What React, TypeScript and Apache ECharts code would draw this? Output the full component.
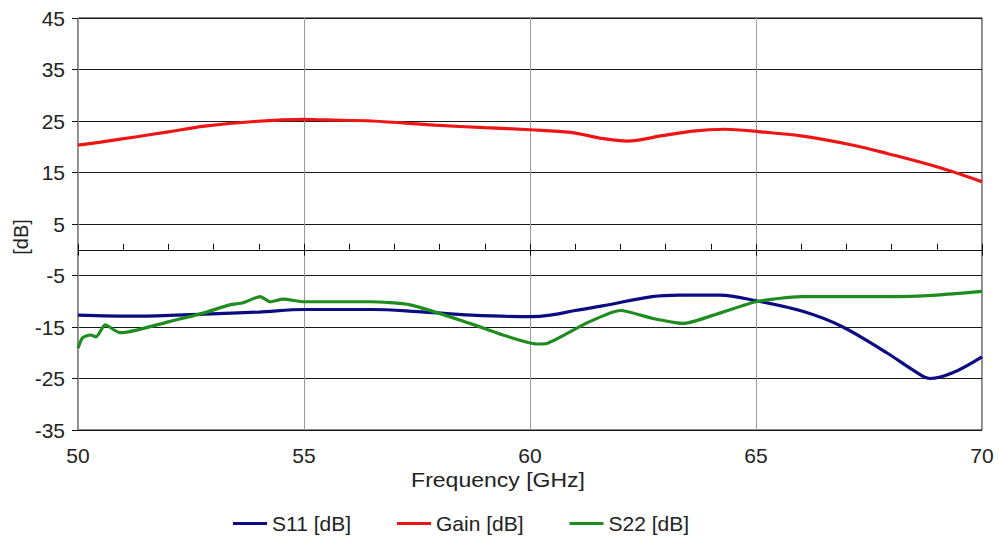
import React, { useEffect, useRef } from "react";
import * as echarts from "echarts";

// ---- data ----
const gainFreq = [50, 50.5, 51.3, 52, 52.8, 53.9, 55, 55.5, 56.5, 57.9, 59, 60, 60.9, 61.6, 62.15, 62.9, 63.6, 64.3, 65.1, 66, 67.15, 67.9, 69, 70];
const gainVals = [20.3, 20.9, 21.95, 22.9, 24.0, 24.9, 25.3, 25.2, 25.0, 24.2, 23.7, 23.3, 22.8, 21.6, 21.1, 22.1, 23.05, 23.4, 22.9, 22.1, 20.3, 18.7, 16.1, 13.2];

const s11Freq = [50, 51.3, 52.8, 54, 55, 56.5, 57.5, 58.7, 60, 60.45, 61, 61.6, 62.7, 63.3, 64.2, 65, 66.05, 66.9, 67.9, 68.5, 68.85, 69.35, 70];
const s11Vals = [-12.7, -12.9, -12.5, -12.1, -11.6, -11.6, -12.0, -12.7, -13.0, -12.7, -11.8, -10.9, -9.1, -8.8, -8.8, -9.9, -12.0, -14.9, -20.05, -23.5, -25.0, -23.9, -20.8];

const s22Freq = [50, 50.1, 50.27, 50.4, 50.6, 50.93, 51.3, 52, 52.77, 53.36, 53.65, 54.03, 54.25, 54.54, 55, 56.46, 57.35, 58.67, 59.4, 60.15, 60.37, 61.26, 62, 62.7, 63.25, 63.4, 64.2, 65, 66, 67.9, 69, 70];
const s22Vals = [-19.1, -17.1, -16.55, -16.9, -14.6, -16.1, -15.6, -14.0, -12.3, -10.7, -10.3, -9.1, -10.1, -9.6, -10.1, -10.1, -10.7, -14.3, -16.55, -18.3, -18.2, -14.2, -11.8, -13.3, -14.2, -14.3, -12.3, -10.1, -9.1, -9.1, -8.8, -8.1];

const seriesNames = ["S11 [dB]", "Gain [dB]", "S22 [dB]"];
const seriesColors = ["#0c0c82", "#ee1515", "#1e8c1e"];
const xTitle = "Frequency [GHz]";
const yTitle = "[dB]";

const FONT = '"Liberation Sans", Arial, sans-serif';

function pairs(f: number[], v: number[]) {
  return f.map((x, i) => [x, v[i]]);
}

export default function App() {
  const ref = useRef<HTMLDivElement>(null);

  useEffect(() => {
    if (!ref.current) return;
    const chart = echarts.init(ref.current, undefined, { renderer: "svg" });
    const data = [pairs(s11Freq, s11Vals), pairs(gainFreq, gainVals), pairs(s22Freq, s22Vals)];
    const smooths = [0.35, 0.35, 0.2];

    chart.setOption({
      animation: false,
      backgroundColor: "#ffffff",
      textStyle: { fontFamily: FONT },
      grid: {
        left: 78,
        right: 17,
        top: 18,
        bottom: 111,
        show: true,
        borderColor: "#111111",
        borderWidth: 1,
        backgroundColor: "transparent",
      },
      legend: {
        left: 233,
        top: 513,
        padding: 0,
        itemWidth: 34,
        itemHeight: 3,
        itemGap: 46,
        icon: "rect",
        textStyle: { fontSize: 21, color: "#222222", fontFamily: FONT },
        data: seriesNames,
      },
      xAxis: [
        {
          type: "value",
          min: 50,
          max: 70,
          interval: 5,
          position: "bottom",
          axisLine: { show: false, onZero: false },
          axisTick: { show: false },
          axisLabel: { fontSize: 21, color: "#222222", margin: 15, fontFamily: FONT },
          splitLine: { show: true, lineStyle: { color: "#9a9a9a", width: 1 } },
        },
        {
          type: "value",
          min: 50,
          max: 70,
          interval: 1,
          position: "top",
          axisLine: { show: true, onZero: true, onZeroAxisIndex: 0, lineStyle: { color: "#111111", width: 1 } },
          axisTick: { show: true, inside: false, length: 6, lineStyle: { color: "#111111", width: 1 } },
          axisLabel: { show: false },
          splitLine: { show: false },
        },
        {
          type: "value",
          min: 50,
          max: 70,
          interval: 5,
          position: "bottom",
          axisLine: { show: false, onZero: true, onZeroAxisIndex: 0 },
          axisTick: { show: true, inside: false, length: 6, lineStyle: { color: "#111111", width: 1 } },
          axisLabel: { show: false },
          splitLine: { show: false },
        },
      ],
      yAxis: [
        {
          type: "value",
          min: -35,
          max: 45,
          interval: 5,
          axisLine: { show: false },
          axisTick: { show: false },
          axisLabel: {
            fontSize: 21,
            color: "#222222",
            margin: 13,
            fontFamily: FONT,
            formatter: (v: number) => ((Math.round(v) + 35) % 10 === 0 ? String(Math.round(v)) : ""),
          },
          splitLine: { show: false },
        },
        {
          type: "value",
          min: 0,
          max: 80,
          interval: 10,
          position: "left",
          axisLine: { show: false },
          axisTick: { show: true, length: 6, lineStyle: { color: "#111111", width: 1 } },
          axisLabel: { show: false },
          splitLine: { show: true, lineStyle: { color: "#1a1a1a", width: 1 } },
        },
      ],
      graphic: [
        {
          type: "text",
          x: 498,
          y: 480,
          scaleX: 1.15,
          style: {
            text: xTitle,
            fontSize: 20,
            fontFamily: FONT,
            fill: "#222222",
            textAlign: "center",
            textVerticalAlign: "middle",
          },
        },
        {
          type: "text",
          x: 21,
          y: 237,
          rotation: Math.PI / 2,
          style: {
            text: yTitle,
            fontSize: 20,
            fontFamily: FONT,
            fill: "#222222",
            textAlign: "center",
            textVerticalAlign: "middle",
          },
        },
      ],
      series: seriesNames.map((name, i) => ({
        name,
        type: "line",
        xAxisIndex: 0,
        yAxisIndex: 0,
        data: data[i],
        showSymbol: false,
        symbol: "none",
        smooth: smooths[i],
        lineStyle: { color: seriesColors[i], width: 3.2 },
        itemStyle: { color: seriesColors[i] },
      })),
    });

    return () => chart.dispose();
  }, []);

  return (
    <div
      ref={ref}
      style={{ position: "fixed", left: 0, top: 0, width: 999, height: 541 }}
    />
  );
}
